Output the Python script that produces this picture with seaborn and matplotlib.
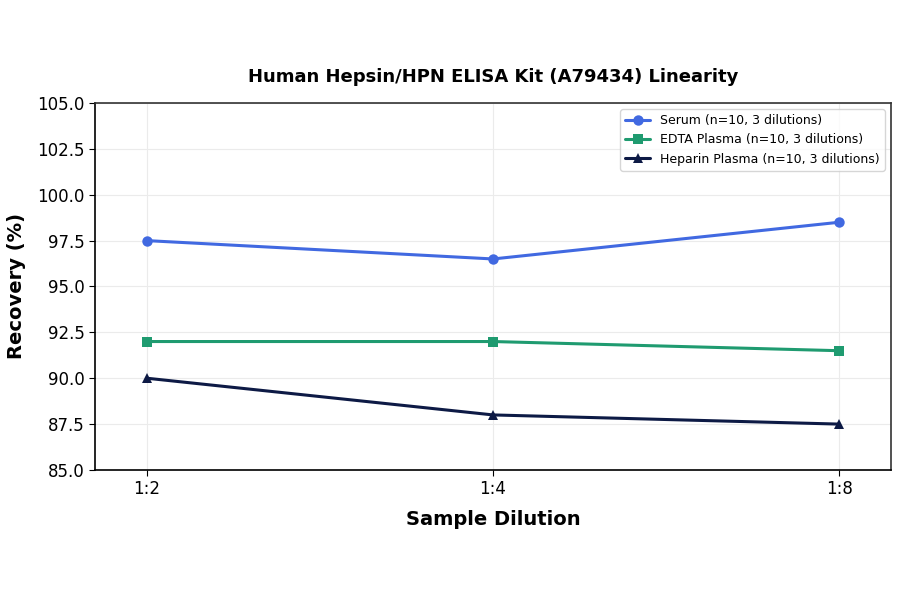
import pandas as pd
import seaborn as sns
from matplotlib import pyplot as plt

dilutions = ["1:2", "1:4", "1:8"]
serum = [97.5, 96.5, 98.5]
edta_plasma = [92.0, 92.0, 91.5]
heparin_plasma = [90.0, 88.0, 87.5]

series = [
    ("Serum (n=10, 3 dilutions)", serum, "#4169e1", "o"),
    ("EDTA Plasma (n=10, 3 dilutions)", edta_plasma, "#1f9b70", "s"),
    ("Heparin Plasma (n=10, 3 dilutions)", heparin_plasma, "#0d1a45", "^"),
]

sns.set_style("white")
plt.rcParams['font.family'] = ['DejaVu Sans']
plt.rcParams['text.color'] = 'black'
plt.rcParams['axes.labelcolor'] = 'black'
plt.rcParams['xtick.color'] = 'black'
plt.rcParams['ytick.color'] = 'black'

fig = plt.figure(figsize=(9, 5.94), dpi=100)
ax = fig.add_axes([0.1056, 0.2088, 0.8844, 0.6178])

for name, values, color, marker in series:
    df = pd.DataFrame({"pos": range(len(dilutions)), "value": values})
    sns.lineplot(data=df, x="pos", y="value", ax=ax, color=color, marker=marker,
                 markersize=7.5, linewidth=2.2, markeredgewidth=0, label=name)

ax.set_xticks(range(len(dilutions)))
ax.set_xticklabels(dilutions)
ax.set_xlim(-0.15, 2.15)
ax.set_ylim(85, 105)
ax.set_yticks([85, 87.5, 90, 92.5, 95, 97.5, 100, 102.5, 105])
ax.set_yticklabels([f"{v:.1f}" for v in ax.get_yticks()])
ax.tick_params(axis="both", labelsize=12, length=4, left=True, bottom=True)
ax.grid(True, color="#ebebeb", linewidth=0.8)
for side in ["top", "right"]:
    ax.spines[side].set_color("#333333")
for side in ["left", "bottom"]:
    ax.spines[side].set_color("black")
for s in ax.spines.values():
    s.set_linewidth(1.2)

ax.set_title("Human Hepsin/HPN ELISA Kit (A79434) Linearity", fontsize=13,
             fontweight="bold", pad=15)
ax.set_xlabel("Sample Dilution", fontsize=14, fontweight="bold", labelpad=8)
ax.set_ylabel("Recovery (%)", fontsize=14, fontweight="bold", labelpad=8)
ax.legend(loc="upper right", fontsize=9, frameon=True, handlelength=2.0)

fig.savefig("out.png", dpi=100)
